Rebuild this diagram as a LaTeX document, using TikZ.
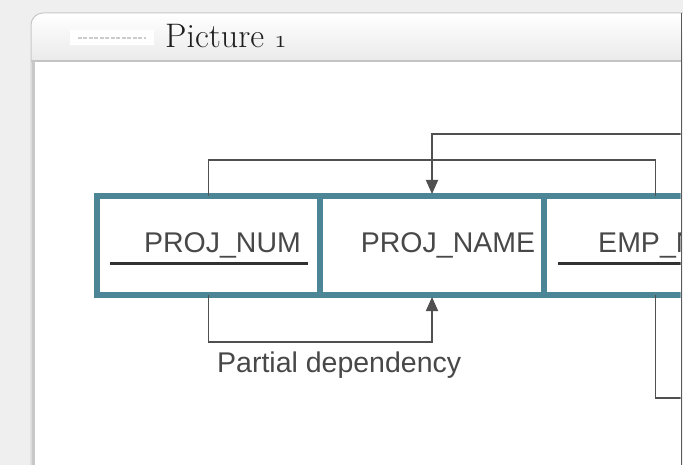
\documentclass[tikz,border=0pt]{standalone}
\usepackage{fontspec}
\newfontfamily\diagfont{Liberation Sans}
\usetikzlibrary{positioning}
\usetikzlibrary{arrows.meta}
\definecolor{tealedge}{RGB}{76,134,150}
\definecolor{pagegray}{RGB}{239,239,239}
\definecolor{barbottom}{RGB}{226,226,226}
\definecolor{barline}{RGB}{196,196,196}
\definecolor{sidegray}{RGB}{200,200,200}
\definecolor{edgedark}{RGB}{90,90,90}
\definecolor{textgray}{RGB}{72,72,72}
\definecolor{linegray}{RGB}{80,80,80}
\definecolor{keydark}{RGB}{50,50,50}
\definecolor{titleblack}{RGB}{30,30,30}
\tikzset{cellStyle/.style={rectangle, draw=tealedge, fill=white, line width=6pt, inner sep=0pt, outer sep=0pt, minimum width=223pt, minimum height=99pt}}
\tikzset{cellText/.style={anchor=base, xshift=14pt, yshift=-7.5pt, inner sep=0pt, text=textgray, font=\diagfont\fontsize{28.5}{30}\selectfont}}
\tikzset{keyLine/.style={draw=keydark, line width=3pt}}
\tikzset{depLine/.style={draw=linegray, line width=1.8pt}, depArrow/.style={depLine, -{Triangle[width=12pt,length=14pt]}, shorten >=2pt}}

\begin{document}
\begin{tikzpicture}[x=1pt, y=-1pt]
  \useasboundingbox (0,0) rectangle (683,465);

  % window
  \fill [pagegray] (0,0) rectangle (683,465);
  \shade [top color=white, bottom color=barbottom, rounded corners=12pt] (31,13) rectangle (720,80);
  \fill [white] (31,61) rectangle (681,465);
  \draw [barline, line width=1.2pt] (31,61) -- (681,61);
  \draw [sidegray, line width=1pt, rounded corners=12pt] (31,465) -- (31,13) -- (720,13);
  \draw [sidegray, line width=3pt] (33,61) -- (33,465);
  \node at (112,38) [rectangle, fill=white, minimum width=84pt, minimum height=15pt] (icon) {};
  \draw [gray!40, line width=2pt, dash pattern=on 4pt off 1.5pt] ([xshift=8pt]icon.west) -- ([xshift=-8pt]icon.east);
  \node at (165,48) [anchor=base west, inner sep=0pt, text=titleblack, font=\fontsize{34}{36}\selectfont] (title) {Picture {\usefont{OML}{cmm}{m}{it}1}};

  \begin{scope}
    \clip (34,62) rectangle (680.5,465);
    % cells
    \node at (208.5,245.5) [cellStyle] (projnum) {};
    \node [cellStyle, minimum width=224pt] (projname) [right=0pt of projnum] {};
    \node [cellStyle] (empnum) [right=0pt of projname] {};

    % texts
    \node [cellText] (projnumtext) at (projnum.center) {PROJ\_NUM};
    \node [cellText, xshift=2pt] (projnametext) at (projname.center) {PROJ\_NAME};
    \node [cellText] (empnumtext) at (empnum.center) {EMP\_NUM};
    \draw [keyLine] ([xshift=13pt, yshift=-18.5pt]projnum.west) -- ([xshift=-12pt, yshift=-18.5pt]projnum.east);
    \draw [keyLine] ([xshift=14pt, yshift=-18.5pt]empnum.west) -- ([xshift=-12pt, yshift=-18.5pt]empnum.east);

    % dependencies
    \coordinate (topright) at (681,134);
    \coordinate (lowright) at (681,398);
    \draw [depLine] (projnum.north) -- ++(0,-36) -| (empnum.north);
    \draw [depArrow] (topright) -| (projname.north);
    \draw [depArrow] (projnum.south) -- ++(0,47) coordinate (pdcorner) -| (projname.south);
    \draw [depLine] (empnum.south) |- (lowright);
    \node [anchor=north west, inner sep=0pt, text=textgray, font=\diagfont\fontsize{28.5}{30}\selectfont] (pdlabel) at ([xshift=8.5pt, yshift=-10pt]pdcorner) {Partial dependency};
  \end{scope}

  \draw [edgedark, line width=1.5pt] (681.5,13) -- (681.5,465);
\end{tikzpicture}
\end{document}
